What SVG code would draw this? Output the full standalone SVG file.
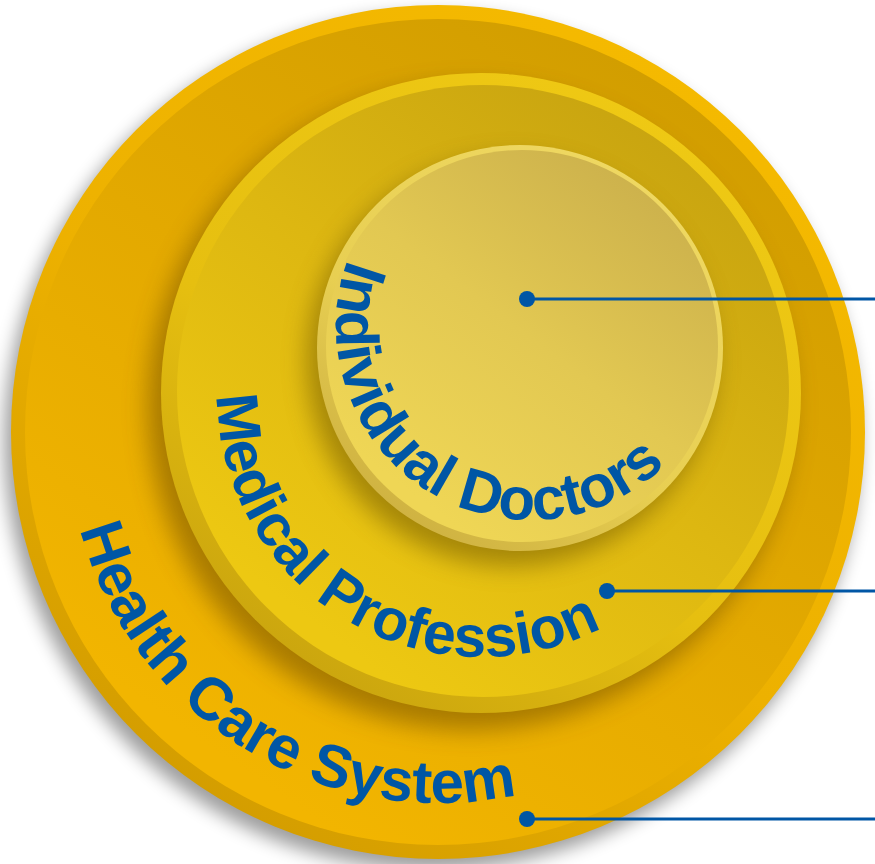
<svg xmlns="http://www.w3.org/2000/svg" xmlns:xlink="http://www.w3.org/1999/xlink" width="875" height="864" viewBox="0 0 875 864">
  <defs>
    <style>
      .label { font-family: "Liberation Sans", Arial, sans-serif; font-weight: bold; fill: #0056A5; }
      .lead { stroke: #0056A5; stroke-width: 3; fill: none; }
      .dot { fill: #0056A5; }
    </style>
    <!-- rims: light at top-right, darker towards bottom-left -->
    <linearGradient id="rimOuter" x1="0.8" y1="0.05" x2="0.2" y2="0.95">
      <stop offset="0" stop-color="#F5BA00"/>
      <stop offset="0.55" stop-color="#EDB100"/>
      <stop offset="1" stop-color="#D29C00"/>
    </linearGradient>
    <linearGradient id="faceOuter" x1="0.8" y1="0.1" x2="0.25" y2="0.9">
      <stop offset="0" stop-color="#D29E00"/>
      <stop offset="0.5" stop-color="#E3A900"/>
      <stop offset="1" stop-color="#F2B500"/>
    </linearGradient>
    <linearGradient id="rimMiddle" x1="0.8" y1="0.05" x2="0.2" y2="0.95">
      <stop offset="0" stop-color="#EFC914"/>
      <stop offset="0.6" stop-color="#E6BF10"/>
      <stop offset="1" stop-color="#C9A40E"/>
    </linearGradient>
    <linearGradient id="faceMiddle" x1="0.85" y1="0.1" x2="0.25" y2="0.9">
      <stop offset="0" stop-color="#C8A410"/>
      <stop offset="0.5" stop-color="#DDB711"/>
      <stop offset="1" stop-color="#EDC812"/>
    </linearGradient>
    <linearGradient id="rimInner" x1="0.8" y1="0.05" x2="0.2" y2="0.95">
      <stop offset="0" stop-color="#EFD862"/>
      <stop offset="0.6" stop-color="#E8CF52"/>
      <stop offset="1" stop-color="#CDB040"/>
    </linearGradient>
    <linearGradient id="faceInner" x1="0.85" y1="0.1" x2="0.25" y2="0.9">
      <stop offset="0" stop-color="#CCB14C"/>
      <stop offset="0.5" stop-color="#E2C852"/>
      <stop offset="1" stop-color="#EFD655"/>
    </linearGradient>
    <filter id="soft" x="-20%" y="-20%" width="140%" height="140%">
      <feGaussianBlur stdDeviation="9"/>
    </filter>
    <filter id="softer" x="-20%" y="-20%" width="140%" height="140%">
      <feGaussianBlur stdDeviation="12"/>
    </filter>
    <!-- baselines for the curved labels, each running counter-clockwise from the top -->
    <path id="arcOuter" d="M 438,61 A 371 371 0 1 0 809,432"/>
    <path id="arcMiddle" d="M 481,129 A 264 264 0 1 0 745,393"/>
    <path id="arcInner" d="M 530,132 A 194 194 0 1 0 724,326"/>
  </defs>

  <rect width="875" height="864" fill="#FFFFFF"/>

  <!-- outer ring: health care system -->
  <g id="health-care-system">
    <circle cx="432" cy="442" r="428" fill="#000000" opacity="0.38" filter="url(#soft)"/>
    <circle cx="438" cy="432" r="427" fill="url(#rimOuter)"/>
    <circle cx="438" cy="432" r="413" fill="url(#faceOuter)"/>
    <text class="label" font-size="60"><textPath xlink:href="#arcOuter" href="#arcOuter" startOffset="963" text-anchor="middle">Health Care System</textPath></text>
  </g>

  <!-- middle ring: medical profession -->
  <g id="medical-profession">
    <circle cx="470" cy="408" r="322" fill="#6B4A00" opacity="0.52" filter="url(#softer)"/>
    <circle cx="481" cy="393" r="320" fill="url(#rimMiddle)"/>
    <circle cx="483" cy="391" r="306" fill="url(#faceMiddle)"/>
    <text class="label" font-size="59"><textPath xlink:href="#arcMiddle" href="#arcMiddle" startOffset="686" text-anchor="middle">Medical Profession</textPath></text>
  </g>

  <!-- inner disc: individual doctors -->
  <g id="individual-doctors">
    <circle cx="511" cy="362" r="204" fill="#6B5200" opacity="0.52" filter="url(#softer)"/>
    <circle cx="520" cy="348" r="203" fill="url(#rimInner)"/>
    <circle cx="522" cy="346" r="196" fill="url(#faceInner)"/>
    <text class="label" font-size="60"><textPath xlink:href="#arcInner" href="#arcInner" startOffset="498" text-anchor="middle">Individual Doctors</textPath></text>
  </g>

  <!-- leader lines from each layer to the right edge -->
  <g id="connectors">
    <line class="lead" x1="527" y1="299" x2="875" y2="299"/>
    <circle class="dot" cx="527" cy="299" r="8"/>
    <line class="lead" x1="607" y1="591" x2="875" y2="591"/>
    <circle class="dot" cx="607" cy="591" r="8"/>
    <line class="lead" x1="527" y1="819" x2="875" y2="819"/>
    <circle class="dot" cx="527" cy="819" r="8"/>
  </g>
</svg>
